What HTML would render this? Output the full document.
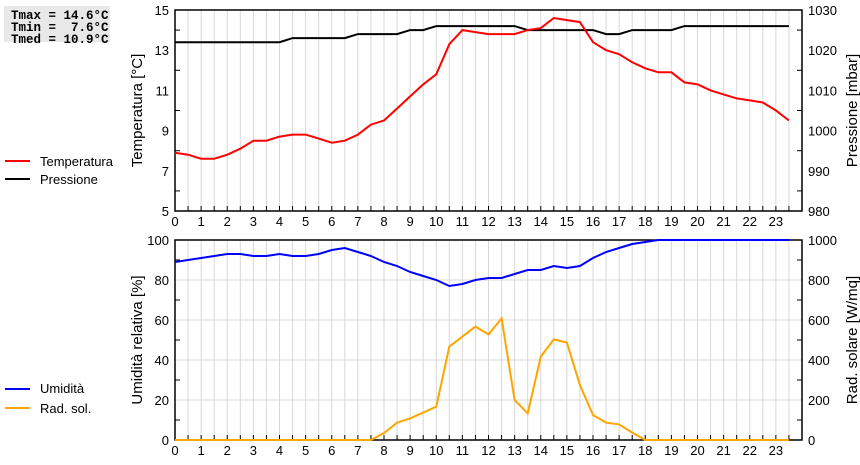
<!DOCTYPE html>
<html><head><meta charset="utf-8"><style>
body{margin:0;background:#fff;width:860px;height:460px;overflow:hidden}
svg{font-family:"Liberation Sans",Arial,sans-serif}
</style></head><body>
<svg id="c" width="860" height="460" xmlns="http://www.w3.org/2000/svg">
<rect x="4" y="6" width="106" height="36" fill="#e8e8e8"/>
<text x="11" y="19" font-family="Liberation Mono,monospace" font-weight="bold" font-size="12.5" xml:space="preserve">Tmax = 14.6°C</text>
<text x="11" y="31" font-family="Liberation Mono,monospace" font-weight="bold" font-size="12.5" xml:space="preserve">Tmin =  7.6°C</text>
<text x="11" y="43" font-family="Liberation Mono,monospace" font-weight="bold" font-size="12.5" xml:space="preserve">Tmed = 10.9°C</text>
<g>
<line x1="5" y1="161" x2="30" y2="161" stroke="#f00" stroke-width="2"/><text x="40" y="166" font-size="13">Temperatura</text>
<line x1="5" y1="179" x2="30" y2="179" stroke="#000" stroke-width="2"/><text x="40" y="184" font-size="13">Pressione</text>
</g>
<g>
<line x1="5" y1="389" x2="30" y2="389" stroke="#00f" stroke-width="2"/><text x="40" y="393" font-size="13">Umidità</text>
<line x1="5" y1="408" x2="30" y2="408" stroke="orange" stroke-width="2"/><text x="40" y="413" font-size="13">Rad. sol.</text>
</g>
<g id="g"></g>
</svg>
<script>
const hours=[];for(let i=0;i<48;i++)hours.push(i/2);
const temperature=[7.9,7.8,7.6,7.6,7.8,8.1,8.5,8.5,8.7,8.8,8.8,8.6,8.4,8.5,8.8,9.3,9.5,10.1,10.7,11.3,11.8,13.3,14.0,13.9,13.8,13.8,13.8,14.0,14.1,14.6,14.5,14.4,13.4,13.0,12.8,12.4,12.1,11.9,11.9,11.4,11.3,11.0,10.8,10.6,10.5,10.4,10.0,9.5];
const pressure=[1022,1022,1022,1022,1022,1022,1022,1022,1022,1023,1023,1023,1023,1023,1024,1024,1024,1024,1025,1025,1026,1026,1026,1026,1026,1026,1026,1025,1025,1025,1025,1025,1025,1024,1024,1025,1025,1025,1025,1026,1026,1026,1026,1026,1026,1026,1026,1026];
const humidity=[89,90,91,92,93,93,92,92,93,92,92,93,95,96,94,92,89,87,84,82,80,77,78,80,81,81,83,85,85,87,86,87,91,94,96,98,99,100,100,100,100,100,100,100,100,100,100,100];
const solar=[0,0,0,0,0,0,0,0,0,0,0,0,0,0,0,0,35,87,108,137,167,467,517,567,528,608,200,133,417,503,487,275,125,87,78,37,0,0,0,0,0,0,0,0,0,0,0,0];
const xTicks=[0,1,2,3,4,5,6,7,8,9,10,11,12,13,14,15,16,17,18,19,20,21,22,23];
const tempTicks=[5,7,9,11,13,15];
const presTicks=[980,990,1000,1010,1020,1030];
const humTicks=[0,20,40,60,80,100];
const solTicks=[0,200,400,600,800,1000];
const X0=175,X1=802;
const x=h=>X0+h*(X1-X0)/24;
const P1={t:10,b:211},P2={t:240,b:440};
const lin=(d0,d1,p)=>v=>p.b-(v-d0)/(d1-d0)*(p.b-p.t);
const yT=lin(5,15,P1),yP=lin(980,1030,P1),yH=lin(0,100,P2),yS=lin(0,1000,P2);
const g=document.getElementById('g');const NS='http://www.w3.org/2000/svg';
function el(t,a,txt){const e=document.createElementNS(NS,t);for(const k in a)e.setAttribute(k,a[k]);if(txt!==undefined)e.textContent=txt;g.appendChild(e);return e;}
function panel(P,ticksL,yL,ticksR,yR,titleL,titleR,pfx,minorL,minorR,hgrid){
  for(let i=0;i<=48;i++){const e=el('line',{x1:x(i/2),x2:x(i/2),y1:P.t,y2:P.b,stroke:'#d8d8d8'});
  }
  ticksL.forEach(v=>{if(hgrid){const e=el('line',{x1:X0,x2:X1,y1:yL(v),y2:yL(v),stroke:'#d8d8d8'});
  }
  const t=el('text',{x:X0-6,y:yL(v)+5,'font-size':13,'text-anchor':'end'},v);
  });
  minorL.forEach(v=>{const e=el('line',{x1:X0,x2:X0+5,y1:yL(v),y2:yL(v),stroke:'#000'});
  });
  minorR.forEach(v=>{const e=el('line',{x1:X1-5,x2:X1,y1:yR(v),y2:yR(v),stroke:'#000'});
  });
  ticksR.forEach(v=>{const t=el('text',{x:X1+6,y:yR(v)+5,'font-size':13},v);
  });
  for(let i=0;i<=48;i++){const e=el('line',{x1:x(i/2),x2:x(i/2),y1:P.b-5,y2:P.b,stroke:'#000'});
  }
  xTicks.forEach(h=>{const t=el('text',{x:x(h),y:P.b+15,'font-size':13,'text-anchor':'middle'},h);
  });
  const r=el('rect',{x:X0,y:P.t,width:X1-X0,height:P.b-P.t,fill:'none',stroke:'#000','stroke-width':1.5});
  
  const cy=(P.t+P.b)/2;
  const a=el('text',{x:0,y:0,'font-size':15,'text-anchor':'middle',transform:`translate(142,${cy}) rotate(-90)`},titleL);
  
  const b=el('text',{x:0,y:0,'font-size':15,'text-anchor':'middle',transform:`translate(857,${cy}) rotate(-90)`},titleR);
  
}
function line(vals,yf,col,name){const d=vals.map((v,i)=>(i?'L':'M')+x(hours[i]).toFixed(1)+','+yf(v).toFixed(1)).join('');
  const p=el('path',{d:d,fill:'none',stroke:col,'stroke-width':2});
  }
panel(P1,tempTicks,yT,presTicks,yP,'Temperatura [°C]','Pressione [mbar]','top',[6,8,10,12,14],[985,995,1005,1015,1025],false);
panel(P2,humTicks,yH,solTicks,yS,'Umidità relativa [%]','Rad. solare [W/mq]','bottom',[10,30,50,70,90],[100,300,500,700,900],true);
line(pressure,yP,'#000','pressure-line');
line(temperature,yT,'#f00','temperature-line');
line(solar,yS,'orange','solar-line');
line(humidity,yH,'#00f','humidity-line');
</script>
</body></html>
